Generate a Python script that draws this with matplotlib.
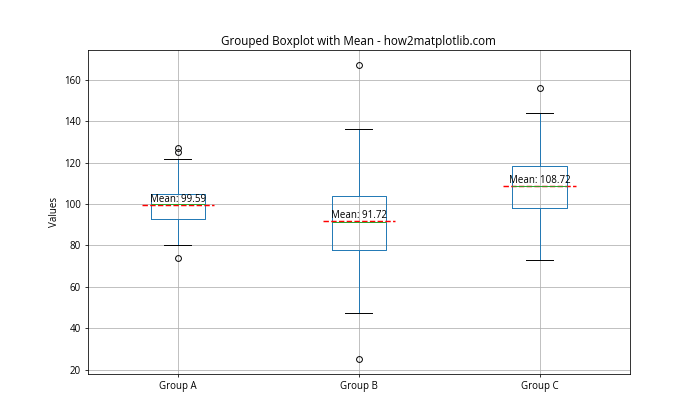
import matplotlib
matplotlib.use("Agg")
import matplotlib.pyplot as plt

plt.rcParams['font.family'] = ['Open Sans', 'DejaVu Sans']

groups = ['Group A', 'Group B', 'Group C']
q1 = [92.7, 77.8, 98.2]
medians = [99.8, 91.4, 108.8]
q3 = [104.8, 104.0, 118.3]
whislo = [80.2, 47.3, 73.1]
whishi = [121.7, 136.2, 143.9]
fliers = [[127.0, 125.0, 74.0], [167.1, 25.1], [156.0]]
means = [99.59, 91.72, 108.72]

stats = []
for i in range(len(groups)):
    stats.append({'label': groups[i], 'q1': q1[i], 'med': medians[i], 'q3': q3[i],
                  'whislo': whislo[i], 'whishi': whishi[i], 'fliers': fliers[i]})

fig, ax = plt.subplots(figsize=(10, 6), dpi=70)
ax.bxp(stats, positions=[1, 2, 3],
       boxprops=dict(color='C0'),
       whiskerprops=dict(color='C0'),
       medianprops=dict(color='C2'),
       capprops=dict(color='k'))
ax.grid(True)

for i, m in enumerate(means):
    ax.hlines(m, i + 0.8, i + 1.2, colors='r', linestyles='--')
    ax.text(i + 1, m, f'Mean: {m:.2f}', ha='center', va='bottom')

ax.set_title('Grouped Boxplot with Mean - how2matplotlib.com')
ax.set_ylabel('Values')
fig.savefig('out.png')
